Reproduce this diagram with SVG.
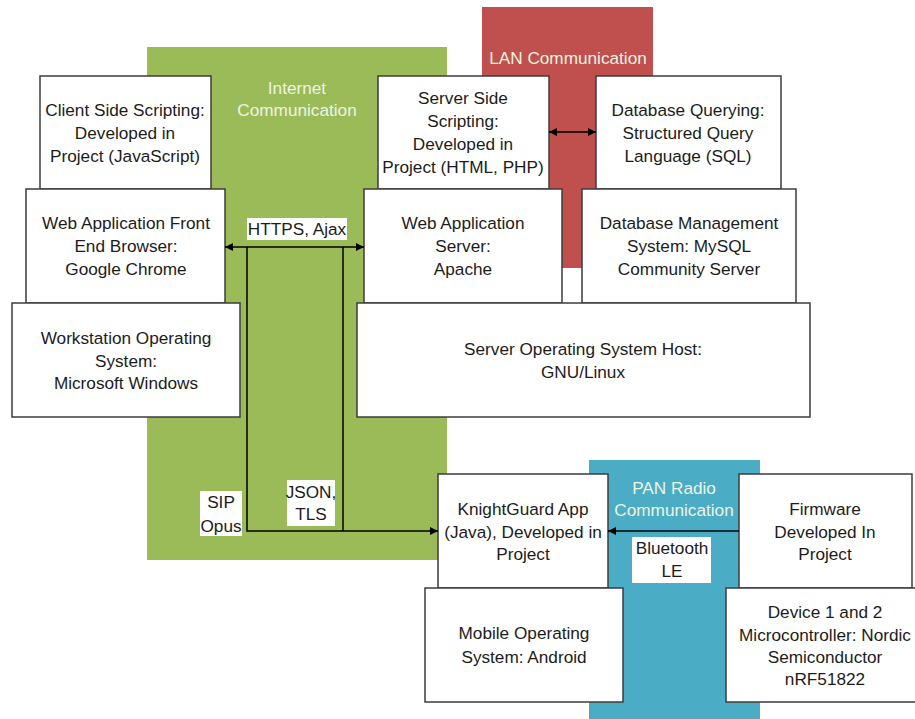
<svg xmlns="http://www.w3.org/2000/svg" width="915" height="719" viewBox="0 0 915 719">
<defs>
<marker id="ah" viewBox="0 0 10 10" refX="10" refY="5" markerWidth="8" markerHeight="8" markerUnits="userSpaceOnUse" orient="auto-start-reverse">
<path d="M0,0 L10,5 L0,10 z" fill="#000"/>
</marker>
<style>
.box{fill:#fff;stroke:#3c3c3c;stroke-width:1.5}
.t{font-family:"Liberation Sans",Arial,sans-serif;font-size:17.2px;fill:#1c1c1c;text-anchor:middle}
.zt{font-family:"Liberation Sans",Arial,sans-serif;font-size:17.2px;fill:#eef3e2;text-anchor:middle}
.lbl{fill:#fff}
.ln{stroke:#000;stroke-width:1.5;fill:none}
</style>
</defs>
<rect width="915" height="719" fill="#fff"/>
<g id="zones">
<rect id="zone-internet" x="147" y="47" width="300" height="513" fill="#9BBB59"/>
<rect id="zone-lan" x="482" y="7" width="171" height="261" fill="#C0504D"/>
<rect id="zone-pan" x="589" y="460" width="171" height="259" fill="#4BACC6"/>
<text class="zt" x="297" y="94">Internet</text>
<text class="zt" x="297" y="116">Communication</text>
<text class="zt" x="568" y="64">LAN Communication</text>
<text class="zt" x="674" y="494">PAN Radio</text>
<text class="zt" x="674" y="516">Communication</text>
</g>
<g id="client-scripting"><rect class="box" x="40" y="76" width="171" height="113"/>
<text class="t" x="125" y="116">Client Side Scripting:</text><text class="t" x="125" y="139">Developed in</text><text class="t" x="125" y="162">Project (JavaScript)</text></g>
<g id="browser"><rect class="box" x="26" y="189" width="199" height="114"/>
<text class="t" x="126" y="229">Web Application Front</text><text class="t" x="126" y="252">End Browser:</text><text class="t" x="126" y="275">Google Chrome</text></g>
<g id="workstation-os"><rect class="box" x="12" y="303" width="228" height="114"/>
<text class="t" x="126" y="344">Workstation Operating</text><text class="t" x="126" y="367">System:</text><text class="t" x="126" y="389">Microsoft Windows</text></g>
<g id="server-scripting"><rect class="box" x="378" y="76" width="171" height="113"/>
<text class="t" x="463" y="104">Server Side</text><text class="t" x="463" y="127">Scripting:</text><text class="t" x="463" y="150">Developed in</text><text class="t" x="463" y="173">Project (HTML, PHP)</text></g>
<g id="db-querying"><rect class="box" x="596" y="76" width="185" height="113"/>
<text class="t" x="688" y="116">Database Querying:</text><text class="t" x="688" y="139">Structured Query</text><text class="t" x="688" y="162">Language (SQL)</text></g>
<g id="web-server"><rect class="box" x="364" y="189" width="198" height="114"/>
<text class="t" x="463" y="229">Web Application</text><text class="t" x="463" y="252">Server:</text><text class="t" x="463" y="275">Apache</text></g>
<g id="dbms"><rect class="box" x="582" y="189" width="214" height="114"/>
<text class="t" x="689" y="229">Database Management</text><text class="t" x="689" y="252">System: MySQL</text><text class="t" x="689" y="275">Community Server</text></g>
<g id="server-os"><rect class="box" x="357" y="303" width="453" height="114"/>
<text class="t" x="583" y="355">Server Operating System Host:</text><text class="t" x="583" y="378">GNU/Linux</text></g>
<g id="knightguard"><rect class="box" x="438" y="474" width="170" height="114"/>
<text class="t" x="523" y="515">KnightGuard App</text><text class="t" x="523" y="538">(Java), Developed in</text><text class="t" x="523" y="560">Project</text></g>
<g id="firmware"><rect class="box" x="739" y="474" width="173" height="114"/>
<text class="t" x="825" y="515">Firmware</text><text class="t" x="825" y="538">Developed In</text><text class="t" x="825" y="560">Project</text></g>
<g id="mobile-os"><rect class="box" x="425" y="588" width="198" height="114"/>
<text class="t" x="524" y="639">Mobile Operating</text><text class="t" x="524" y="663">System: Android</text></g>
<g id="device"><rect class="box" x="726" y="588" width="200" height="114"/>
<text class="t" x="825" y="618">Device 1 and 2</text><text class="t" x="825" y="641">Microcontroller: Nordic</text><text class="t" x="825" y="663">Semiconductor</text><text class="t" x="825" y="685">nRF51822</text></g>
<g id="connectors">
<line class="ln" x1="549" y1="132" x2="596" y2="132" marker-start="url(#ah)" marker-end="url(#ah)"/>
<line class="ln" x1="225" y1="247" x2="364" y2="247" marker-start="url(#ah)" marker-end="url(#ah)"/>
<polyline class="ln" points="247,247 247,531 438,531" marker-end="url(#ah)"/>
<line class="ln" x1="343" y1="247" x2="343" y2="531"/>
<line class="ln" x1="739" y1="531" x2="608" y2="531" marker-end="url(#ah)"/>
<rect class="lbl" x="247" y="218" width="100" height="22"/>
<text class="t" x="297" y="235">HTTPS, Ajax</text>
<rect class="lbl" x="200" y="491" width="42" height="45"/>
<text class="t" x="221" y="508">SIP</text><text class="t" x="221" y="532">Opus</text>
<rect class="lbl" x="287" y="480" width="48" height="46"/>
<text class="t" x="311" y="498">JSON,</text><text class="t" x="311" y="520">TLS</text>
<rect class="lbl" x="632" y="537" width="79" height="46"/>
<text class="t" x="672" y="554">Bluetooth</text><text class="t" x="672" y="577">LE</text>
</g>
</svg>
